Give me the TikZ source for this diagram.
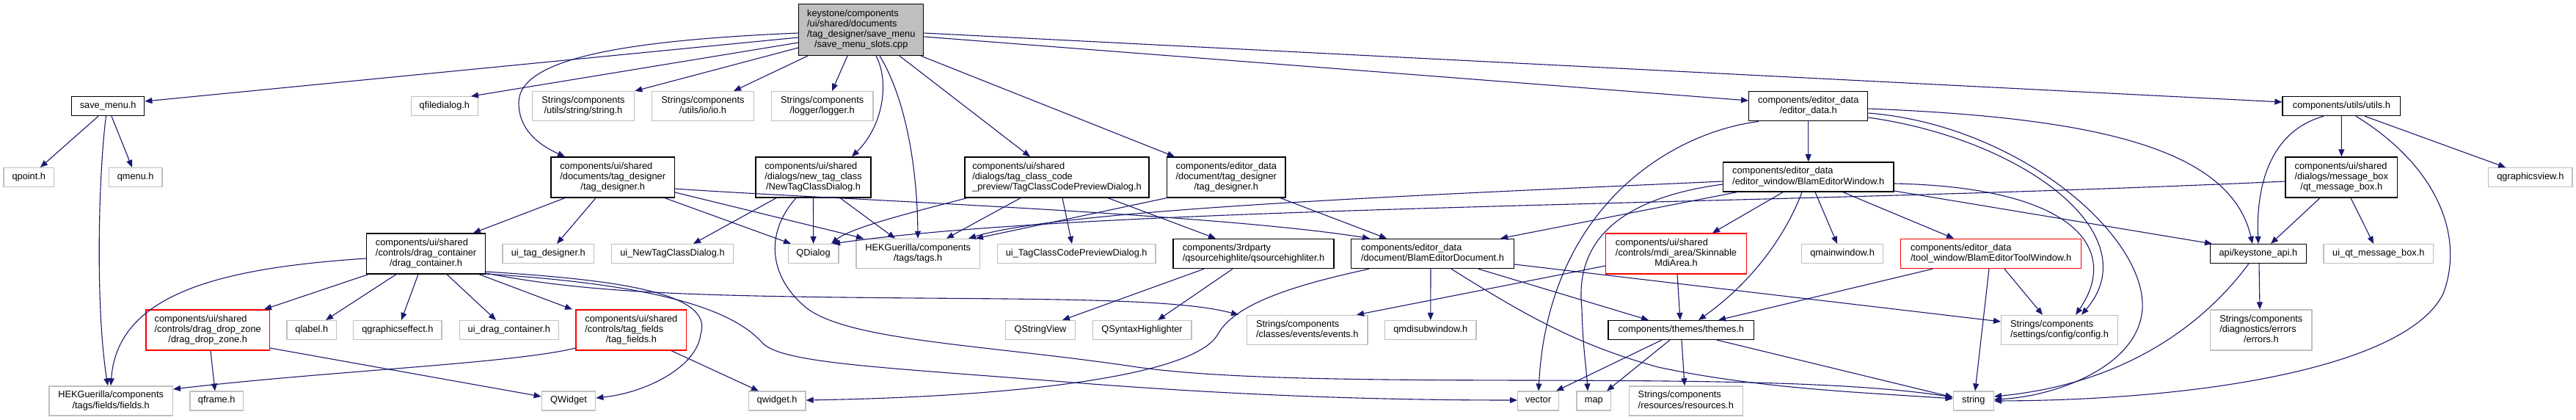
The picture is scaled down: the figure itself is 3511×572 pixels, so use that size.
\documentclass[tikz,border=0pt]{standalone}
\usepackage{fontspec}
\setmainfont{Liberation Sans}
\usepackage{xcolor}
\usetikzlibrary{arrows.meta}
\definecolor{edgeblue}{HTML}{191970}
\definecolor{extgray}{HTML}{BFBFBF}
\definecolor{rootgray}{HTML}{BFBFBF}
\newcommand{\gfont}{\fontsize{6.4}{7.15}\selectfont}
\newcommand{\flines}[2]{\begin{tabular}{@{}l@{}}#1\\\multicolumn{1}{@{}c@{}}{#2}\end{tabular}}

\begin{document}
\begin{tikzpicture}[x=0.5pt,y=-0.5pt,
    file/.style={rectangle, draw=black, fill=white, line width=0.65pt,
                 inner sep=0pt, font=\gfont, text=black},
    ext/.style={file, draw=extgray},
    trunc/.style={file, draw=red},
    rootfile/.style={file, fill=rootgray},
    oneline/.style={minimum height=12.9pt, text height=5pt, text depth=2.15pt},
    twoline/.style={minimum height=20.1pt},
    threeline/.style={minimum height=27.5pt},
    fourline/.style={minimum height=34.85pt},
    dep/.style={draw=edgeblue, line width=0.55pt, -{Triangle[length=5pt,width=4pt]}},
]
\fill[white] (0,0) rectangle (3511,572);
\useasboundingbox (0,0) rectangle (3511,572);

\node[rootfile,fourline,minimum width=85pt] (root) at (1173.8,40.6) {\flines{keystone/components\\/ui/shared/documents\\/tag\_designer/save\_menu}{/save\_menu\_slots.cpp}};

\node[file,oneline,minimum width=49.55pt] (savemenu) at (147.2,144.7) {save\_menu.h};
\node[ext,oneline,minimum width=45.55pt] (qfiledialog) at (605.9,144.7) {qfiledialog.h};
\node[ext,twoline,minimum width=69.65pt] (strutil) at (795,144.7) {\flines{Strings/components}{/utils/string/string.h}};
\node[ext,twoline,minimum width=69.65pt] (strio) at (958,144.7) {\flines{Strings/components}{/utils/io/io.h}};
\node[ext,twoline,minimum width=69.35pt] (strlog) at (1120.7,144.7) {\flines{Strings/components}{/logger/logger.h}};
\node[file,twoline,minimum width=80.95pt] (edata) at (2464.7,144.7) {\flines{components/editor\_data}{/editor\_data.h}};
\node[file,oneline,minimum width=80.4pt] (utils) at (3191.4,144.7) {components/utils/utils.h};

\node[ext,oneline,minimum width=34.25pt] (qpoint) at (39.3,241.5) {qpoint.h};
\node[ext,oneline,minimum width=36.15pt] (qmenu) at (184.7,241.5) {qmenu.h};
\node[file,threeline,minimum width=84.15pt] (tagdes) at (835.2,241.5) {\flines{components/ui/shared\\/documents/tag\_designer}{/tag\_designer.h}};
\node[file,threeline,minimum width=78.5pt] (newtag) at (1108.5,241.5) {\flines{components/ui/shared\\/dialogs/new\_tag\_class}{/NewTagClassDialog.h}};
\node[file,threeline,minimum width=125.5pt] (preview) at (1440.5,241.5) {\flines{components/ui/shared\\/dialogs/tag\_class\_code}{\_preview/TagClassCodePreviewDialog.h}};
\node[file,threeline,minimum width=80.75pt] (edtagdes) at (1671.3,241.5) {\flines{components/editor\_data\\/document/tag\_designer}{/tag\_designer.h}};
\node[file,twoline,minimum width=116.15pt] (window) at (2464.7,241) {\flines{components/editor\_data}{/editor\_window/BlamEditorWindow.h}};
\node[file,threeline,minimum width=76.25pt] (msgbox) at (3191.3,241.5) {\flines{components/ui/shared\\/dialogs/message\_box}{/qt\_message\_box.h}};
\node[ext,oneline,minimum width=57.05pt] (qgview) at (3448.8,241.5) {qgraphicsview.h};

\node[file,threeline,minimum width=80.8pt] (dragcont) at (580.6,345.5) {\flines{components/ui/shared\\/controls/drag\_container}{/drag\_container.h}};
\node[ext,oneline,minimum width=62.25pt] (uitagdes) at (747.3,345.5) {ui\_tag\_designer.h};
\node[ext,oneline,minimum width=82.85pt] (uinewtag) at (916.5,345.5) {ui\_NewTagClassDialog.h};
\node[ext,oneline,minimum width=34.25pt] (qdialog) at (1108.6,345.5) {QDialog};
\node[ext,twoline,minimum width=84.2pt] (tags) at (1251.2,345.5) {\flines{HEKGuerilla/components}{/tags/tags.h}};
\node[ext,oneline,minimum width=107.7pt] (uipreview) at (1467.2,345.5) {ui\_TagClassCodePreviewDialog.h};
\node[file,twoline,minimum width=109.5pt] (highliter) at (1708.5,345.5) {\flines{components/3rdparty}{/qsourcehighlite/qsourcehighliter.h}};
\node[file,twoline,minimum width=110.8pt] (document) at (1952.5,345.5) {\flines{components/editor\_data}{/document/BlamEditorDocument.h}};
\node[trunc,threeline,minimum width=95.7pt] (mdiarea) at (2284.5,345.5) {\flines{components/ui/shared\\/controls/mdi\_area/Skinnable}{MdiArea.h}};
\node[ext,oneline,minimum width=55.5pt] (qmainwin) at (2511.1,345.5) {qmainwindow.h};
\node[trunc,twoline,minimum width=122.85pt] (toolwin) at (2713.6,345.5) {\flines{components/editor\_data}{/tool\_window/BlamEditorToolWindow.h}};
\node[file,oneline,minimum width=65.3pt] (api) at (3077.9,345.5) {api/keystone\_api.h};
\node[ext,oneline,minimum width=74.75pt] (uimsgbox) at (3241.8,345.5) {ui\_qt\_message\_box.h};

\node[trunc,threeline,minimum width=84.2pt] (dropzone) at (283.2,449.5) {\flines{components/ui/shared\\/controls/drag\_drop\_zone}{/drag\_drop\_zone.h}};
\node[ext,oneline,minimum width=33.7pt] (qlabel) at (424.8,449.5) {qlabel.h};
\node[ext,oneline,minimum width=60.1pt] (qgfx) at (541.9,449.5) {qgraphicseffect.h};
\node[ext,oneline,minimum width=67.35pt] (uidragcont) at (693.9,449.5) {ui\_drag\_container.h};
\node[trunc,threeline,minimum width=75.4pt] (tagfields) at (860.4,449.5) {\flines{components/ui/shared\\/controls/tag\_fields}{/tag\_fields.h}};
\node[ext,oneline,minimum width=47.45pt] (qstrview) at (1418,449.5) {QStringView};
\node[ext,oneline,minimum width=67.35pt] (qsyntax) at (1556.6,449.5) {QSyntaxHighlighter};
\node[ext,twoline,minimum width=82.1pt] (events) at (1781.8,449.5) {\flines{Strings/components}{/classes/events/events.h}};
\node[ext,oneline,minimum width=62.2pt] (qmdisub) at (1949.8,449.5) {qmdisubwindow.h};
\node[file,oneline,minimum width=99.35pt] (themes) at (2291.3,449.5) {components/themes/themes.h};
\node[ext,twoline,minimum width=79.35pt] (config) at (2807,449.5) {\flines{Strings/components}{/settings/config/config.h}};
\node[ext,threeline,minimum width=69.2pt] (errors) at (3081.8,449.5) {\flines{Strings/components\\/diagnostics/errors}{/errors.h}};

\node[ext,twoline,minimum width=84.2pt] (fields) at (151.2,546) {\flines{HEKGuerilla/components}{/tags/fields/fields.h}};
\node[ext,oneline,minimum width=36.2pt] (qframe) at (295.2,546) {qframe.h};
\node[ext,oneline,minimum width=36.75pt] (qwidgetcls) at (775,546) {QWidget};
\node[ext,oneline,minimum width=38.85pt] (qwidgeth) at (1059.1,546) {qwidget.h};
\node[ext,oneline,minimum width=27.9pt] (vector) at (2096.6,546) {vector};
\node[ext,oneline,minimum width=23.35pt] (map) at (2172.3,546) {map};
\node[ext,twoline,minimum width=77.5pt] (resources) at (2297.8,546) {\flines{Strings/components}{/resources/resources.h}};
\node[ext,oneline,minimum width=27.55pt] (string) at (2689.8,546) {string};

\draw[dep] (root.west |- 0,51) -- (savemenu.east |- 0,138);
\draw[dep] (root.west |- 0,58) -- (qfiledialog.north -| 642,0);
\draw[dep] (root.west |- 0,45) .. controls (850,55) and (707,80) .. (707,140) .. controls (707,180) and (740,200) .. (tagdes.north -| 770,0);
\draw[dep] (root.west |- 0,65) -- (strutil.north east);
\draw[dep] (root.south -| 1101,0) -- (strio.north -| 1000,0);
\draw[dep] (root.south -| 1155,0) -- (strlog.north -| 1134,0);
\draw[dep] (root.south -| 1194,0) .. controls (1212,110) and (1205,170) .. (newtag.north -| 1161,0);
\draw[dep] (root.south -| 1199,0) .. controls (1232,130) and (1250,220) .. (tags.north -| 1251,0);
\draw[dep] (root.south -| 1226,0) -- (preview.north -| 1404,0);
\draw[dep] (root.south -| 1255,0) -- (edtagdes.north -| 1601,0);
\draw[dep] (root.east |- 0,50) -- (edata.west |- 0,137);
\draw[dep] (root.east |- 0,45) -- (utils.west |- 0,139);

\draw[dep] (savemenu.south -| 134,0) -- (qpoint.north -| 55,0);
\draw[dep] (savemenu.south -| 152,0) -- (qmenu.north -| 180,0);
\draw[dep] (savemenu.south -| 144.5,0) .. controls (134,240) and (130,420) .. (fields.north -| 147,0);

\draw[dep] (tagdes.south -| 770,0) -- (dragcont.north -| 645,0);
\draw[dep] (tagdes.south -| 812,0) -- (uitagdes.north -| 759,0);
\draw[dep] (tagdes.south -| 906,0) -- (qdialog.north -| 1078,0);
\draw[dep] (tagdes.east |- 0,262) -- (tags.north -| 1177,0);
\draw[dep] (tagdes.east |- 0,257) .. controls (1100,270) and (1650,290) .. (document.north -| 1867,0);

\draw[dep] (newtag.south -| 1058,0) -- (uinewtag.north -| 945,0);
\draw[dep] (newtag.south) -- (qdialog.north);
\draw[dep] (newtag.south -| 1145,0) -- (tags.north -| 1220,0);
\draw[dep] (newtag.south -| 1085,0) .. controls (1040,320) and (1050,380) .. (1100,420) .. controls (1160,465) and (1350,470) .. (1550,500) .. controls (1800,535) and (2400,500) .. (string.west |- 0,541);

\draw[dep] (preview.south -| 1318,0) .. controls (1240,290) and (1160,310) .. (qdialog.north -| 1133,0);
\draw[dep] (preview.south -| 1391,0) -- (tags.north -| 1290,0);
\draw[dep] (preview.south -| 1448,0) -- (uipreview.north -| 1461,0);
\draw[dep] (preview.south -| 1510,0) -- (highliter.north -| 1657,0);

\draw[dep] (edtagdes.south west) -- (tags.north -| 1330,0);
\draw[dep] (edtagdes.south -| 1745,0) -- (document.north -| 1890,0);

\draw[dep] (window.west |- 0,247) .. controls (1950,265) and (1450,285) .. (tags.north -| 1320,0);
\draw[dep] (window.west |- 0,251) .. controls (2220,268) and (2145,320) .. (2156,420) .. controls (2157,470) and (2162,500) .. (map.north -| 2164,0);
\draw[dep] (window.south -| 2367,0) -- (document.north -| 2045,0);
\draw[dep] (window.south -| 2430,0) -- (mdiarea.north -| 2334,0);
\draw[dep] (window.south -| 2456,0) .. controls (2430,330) and (2380,390) .. (themes.north -| 2315,0);
\draw[dep] (window.south -| 2474,0) -- (qmainwin.north -| 2504,0);
\draw[dep] (window.south -| 2512,0) -- (toolwin.north -| 2663,0);
\draw[dep] (window.east |- 0,260) -- (api.north -| 3015,0);
\draw[dep] (window.east |- 0,250) .. controls (2830,255) and (2890,340) .. (config.north -| 2829,0);

\draw[dep] (edata.south) -- (window.north);
\draw[dep] (edata.south -| 2397,0) .. controls (2280,180) and (2110,280) .. (vector.north -| 2097,0);
\draw[dep] (edata.east |- 0,148) .. controls (2850,160) and (3040,200) .. (api.north -| 3070,0);
\draw[dep] (edata.east |- 0,154) .. controls (2750,170) and (2925,320) .. (2920,420) .. controls (2915,500) and (2800,540) .. (string.east |- 0,544);
\draw[dep] (edata.east |- 0,160) .. controls (2760,190) and (2930,320) .. (config.north -| 2837,0);

\draw[dep] (msgbox.south -| 3162,0) -- (api.north -| 3095,0);
\draw[dep] (msgbox.south -| 3204,0) -- (uimsgbox.north -| 3235,0);
\draw[dep] (msgbox.west |- 0,247) .. controls (2400,280) and (1500,280) .. (qdialog.north -| 1135,0);

\draw[dep] (utils.south -| 3167,0) .. controls (3090,180) and (3075,260) .. (api.north -| 3078,0);
\draw[dep] (utils.south) -- (msgbox.north);
\draw[dep] (utils.south -| 3211,0) .. controls (3320,225) and (3360,320) .. (3330,400) .. controls (3280,500) and (3000,545) .. (string.east |- 0,546);
\draw[dep] (utils.south -| 3223,0) -- (qgview.north -| 3415,0);

\draw[dep] (api.south -| 3079,0) -- (errors.north -| 3080,0);
\draw[dep] (api.south -| 3065,0) .. controls (3020,420) and (2920,520) .. (string.east |- 0,540);

\draw[dep] (toolwin.south -| 2634,0) -- (themes.north -| 2342,0);
\draw[dep] (toolwin.south -| 2711,0) -- (string.north -| 2692,0);
\draw[dep] (toolwin.south -| 2732,0) -- (config.north -| 2784,0);

\draw[dep] (document.south -| 1866,0) .. controls (1780,385) and (1685,410) .. (1660,455) .. controls (1630,510) and (1400,540) .. (qwidgeth.east |- 0,545);
\draw[dep] (document.south -| 1950,0) -- (qmdisub.north);
\draw[dep] (document.south -| 2015,0) -- (themes.north -| 2247,0);
\draw[dep] (document.south -| 1978,0) .. controls (2080,430) and (2150,470) .. (2260,500) .. controls (2400,530) and (2550,535) .. (string.west |- 0,543);
\draw[dep] (document.east |- 0,360) -- (config.west |- 0,438);

\draw[dep] (mdiarea.west |- 0,362) -- (events.north -| 1849,0);
\draw[dep] (mdiarea.south -| 2286,0) -- (themes.north -| 2290,0);

\draw[dep] (themes.south -| 2265,0) -- (vector.north -| 2121,0);
\draw[dep] (themes.south -| 2276,0) -- (map.north -| 2190,0);
\draw[dep] (themes.south -| 2292,0) -- (resources.north -| 2296,0);
\draw[dep] (themes.south -| 2340,0) -- (string.west |- 0,541);

\draw[dep] (highliter.south -| 1641,0) -- (qstrview.north -| 1448,0);
\draw[dep] (highliter.south -| 1680,0) -- (qsyntax.north -| 1578,0);

\draw[dep] (dragcont.west |- 0,352) .. controls (300,365) and (160,400) .. (fields.north -| 151,0);
\draw[dep] (dragcont.south -| 502,0) -- (dropzone.north -| 360,0);
\draw[dep] (dragcont.south -| 540,0) -- (qlabel.north -| 444,0);
\draw[dep] (dragcont.south -| 570,0) -- (qgfx.north -| 547,0);
\draw[dep] (dragcont.south -| 609,0) -- (uidragcont.north -| 676,0);
\draw[dep] (dragcont.south -| 653,0) -- (tagfields.north -| 780,0);
\draw[dep] (dragcont.east |- 0,370) .. controls (820,380) and (975,395) .. (955,455) .. controls (950,500) and (880,535) .. (qwidgetcls.east |- 0,542);
\draw[dep] (dragcont.east |- 0,372) .. controls (780,395) and (900,402) .. (1150,405) .. controls (1400,408) and (1600,405) .. (events.north -| 1688,0);
\draw[dep] (dragcont.east |- 0,373) .. controls (850,385) and (990,410) .. (1040,468) .. controls (1070,495) and (1200,500) .. (1450,520) .. controls (1700,540) and (1900,545) .. (vector.west |- 0,545);

\draw[dep] (dropzone.south -| 287,0) -- (qframe.north -| 293,0);
\draw[dep] (dropzone.east |- 0,474) -- (qwidgetcls.west |- 0,540);

\draw[dep] (tagfields.west |- 0,474) .. controls (700,495) and (450,505) .. (fields.east |- 0,530);
\draw[dep] (tagfields.south -| 915,0) -- (qwidgeth.north -| 1034,0);
\end{tikzpicture}
\end{document}
